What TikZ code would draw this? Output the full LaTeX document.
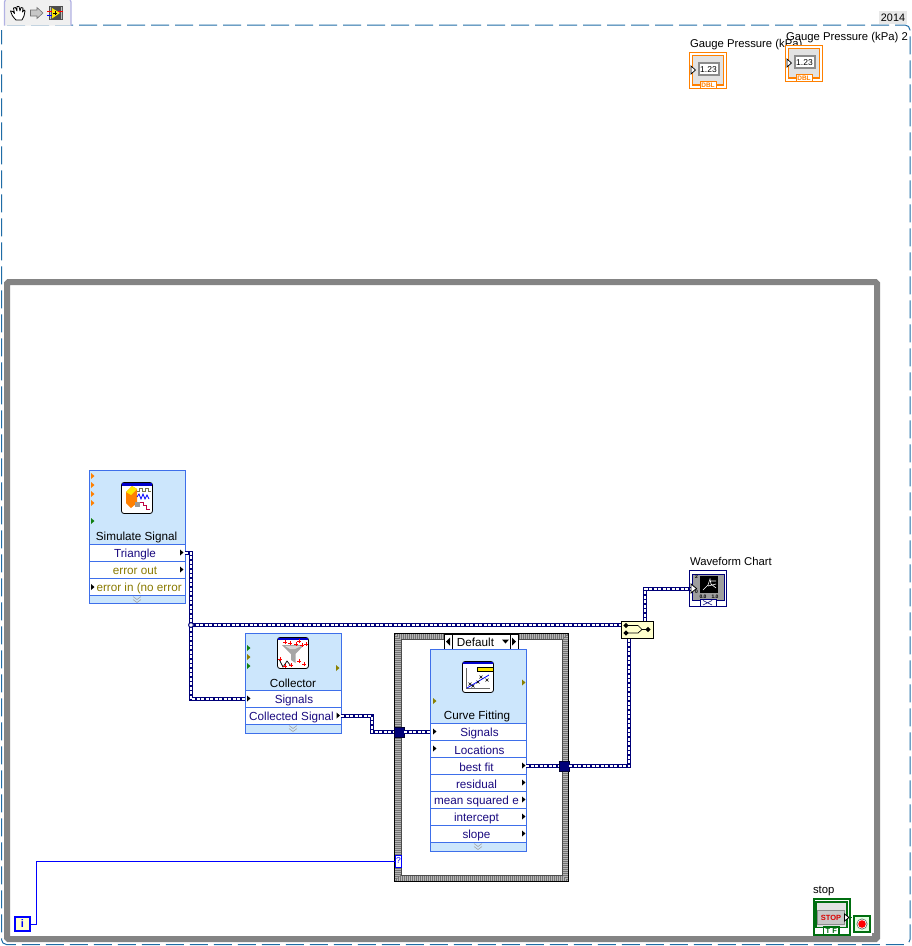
\documentclass[tikz,border=0pt]{standalone}
\usepackage{fontspec}
\setmainfont{Liberation Sans}
\definecolor{frameblue}{HTML}{1F6CA6}
\definecolor{loopgray}{HTML}{848484}
\definecolor{vipanel}{HTML}{CCE6FC}
\definecolor{viedge}{HTML}{3E6FEA}
\definecolor{navywire}{HTML}{000078}
\definecolor{sigtext}{HTML}{1A0A80}
\definecolor{errtext}{HTML}{8A7A00}
\definecolor{dblorange}{HTML}{FF8000}
\definecolor{tfgreen}{HTML}{006E10}
\definecolor{termgreen}{HTML}{108010}
\definecolor{termolive}{HTML}{8A8000}
\definecolor{panelgray}{HTML}{E2E2E2}
\definecolor{mergeyellow}{HTML}{FFFFCC}
\definecolor{intblue}{HTML}{0000FF}
\tikzset{
  every node/.style={inner sep=0pt,outer sep=0pt},
  lbl/.style={font=\fontsize{11.3}{13}\selectfont,text=black,yshift=-1.2pt},
  rowcell/.style={draw=viedge,line width=1pt,fill=white,minimum width=96pt,minimum height=17pt},
  rowtext/.style={font=\fontsize{11.7}{13}\selectfont,yshift=-1.2pt},
  panel/.style={draw=viedge,line width=1pt,fill=vipanel,minimum width=96pt},
  iconbox/.style={draw=black,line width=.8pt,fill=white,rounded corners=2.5pt,minimum width=31pt,minimum height=31pt},
  sigwire/.style={draw=navywire,line width=4.8pt,line join=miter,
     postaction={draw=white,line width=1.2pt,dash pattern=on 3pt off 1.5pt}},
  intwire/.style={draw=intblue,line width=1pt},
  tunnel/.style={fill=navywire,draw=black!60!navywire,line width=.5pt,minimum width=10pt,minimum height=10pt},
  frameline/.style={draw=frameblue,line width=1pt,dash pattern=on 18pt off 6pt},
  looppath/.style={draw=loopgray,line width=6pt,line join=miter,rounded corners=1.5pt},
}
\newcommand\vrow[6]{% name, cell centre y, left, text x, colour, text
  \node[rowcell] (#1) at (#3+48,#2) {};
  \node[rowtext,text=#5] at (#4,#2) {#6};}
\newcommand\termR[3]{\fill[#3,shift={(#1,#2)}] (0,-3) -- (3.5,0) -- (0,3) -- cycle;}
\newcommand\chev[2]{\draw[black!35,line width=.6pt,shift={(#1,#2)}] (-4,-2.5) -- (0,.5) -- (4,-2.5) (-4,.5) -- (0,3.5) -- (4,.5);}
\newcommand\gauge[3]{% name, x, y of top left
 \begin{scope}[shift={(#2,#3)}]
  \node[draw=dblorange,line width=1.6pt,fill=white,minimum width=37pt,minimum height=36pt] (#1) at (19,18.5) {};
  \fill[panelgray] (3.5,3.5) rectangle (34.5,33);
  \draw[dblorange,line width=1.2pt] (11,33) -- (3.5,33) -- (3.5,3.5) -- (34.5,3.5) -- (34.5,33) -- (27,33);
  \draw[dblorange,line width=1pt,fill=white] (11,29.5) rectangle (27,36.5);
  \node[font=\bfseries\fontsize{6.5}{7}\selectfont,text=dblorange] at (19,33.2) {DBL};
  \draw[black!45,line width=2pt,fill=white] (9.5,11) rectangle (29.5,23);
  \node[font=\fontsize{8.5}{10}\selectfont] at (19.5,17.2) {1.23};
  \draw[black,line width=.7pt,fill=white] (2,14) -- (6.5,18) -- (2,22) -- cycle;
 \end{scope}}
\begin{document}
\begin{tikzpicture}[x=1pt,y=-1pt]
\useasboundingbox (0,0) rectangle (912,946);
\fill[white] (0,0) rectangle (912,946);

% outer dashed frame
\draw[frameline,rounded corners=5pt] (7,25) -- (910,25) -- (910,944.5) -- (1.5,944.5) -- (1.5,30);

% toolbar
\path[fill=black!6,draw=black!35!blue!30!white,line width=1.2pt,rounded corners=4pt] (4.5,25.5) -- (4.5,-2) -- (71,-2) -- (71,25.5);
\draw[black,line width=.8pt,fill=white,line join=round]
  (16,20) .. controls (13,17) and (11,14) .. (10.5,11) -- (13,11.5) -- (14.5,13.5) -- (13.5,8) -- (15.5,7.5) -- (17,11)
  -- (17,6.5) -- (19,6.5) -- (20,11) -- (21,7.5) -- (23,8) -- (22.5,12) -- (24,10) -- (25,11) -- (24,16) -- (22,20) -- cycle;
\draw[black!55,line width=.6pt,fill=black!22] (30.5,10) -- (37,10) -- (37,7.5) -- (43,13) -- (37,18.5) -- (37,16) -- (30.5,16) -- cycle;
\fill[black!70] (49,6) rectangle (63,20);
\fill[black!25!white] (50,7) rectangle (51,19) (61,7) rectangle (62,19);
\draw[red,line width=.8pt] (47,11) -- (53,11) (58,11) -- (63,11);
\draw[blue,line width=.8pt] (47,15.5) -- (53,15.5);
\fill[yellow!90!orange] (52,8) -- (60,13) -- (52,18.5) -- cycle;
\draw[black,line width=.7pt] (53,13) -- (57,13) (55,11) -- (55,15);

% version
\fill[black!9] (879,11) rectangle (907,24);
\node[font=\fontsize{10.8}{12}\selectfont,text=black] at (893,17.5) {2014};

% gauges
\node[lbl,anchor=west] at (690,43) {Gauge Pressure (kPa)};
\gauge{gaugeA}{689}{52}
\gauge{gaugeB}{785}{45}
\node[lbl,anchor=west] at (786,36.5) {Gauge Pressure (kPa) 2};

% while loop
\draw[looppath] (7,282) -- (877,282) -- (877,939) -- (7,939) -- cycle;
\fill[loopgray] (872,933) rectangle (880,937);

% case structure
\fill[black!28] (395,633) rectangle (568,639) (395,875.5) rectangle (568,881) (395,633) rectangle (401,881) (562,633) rectangle (568,881);
\foreach \i in {0,...,5}{
  \pgfmathsetmacro\inset{\i+.5}
  \pgfmathsetmacro\phase{mod(\i,2)}
  \draw[black!55,line width=1pt,dash pattern=on 1pt off 1pt,dash phase=\phase pt]
    (394.5+\inset,633+\inset) rectangle (568-\inset,881-\inset);
}
\draw[black,line width=.8pt] (394.5,633) rectangle (568,881);
\draw[black!70,line width=.5pt] (401,639) rectangle (562,875.5);

% selector
\node[draw=black,line width=.8pt,fill=white,minimum width=74pt,minimum height=15pt] (selector) at (481,641.5) {};
\draw[black,line width=.8pt] (452,634) -- (452,649) (510,634) -- (510,649);
\fill[black] (450,637.5) -- (446,641.5) -- (450,645.5) -- cycle;
\fill[black] (512,637.5) -- (516,641.5) -- (512,645.5) -- cycle;
\fill[black] (502,639.5) -- (509,639.5) -- (505.5,643.5) -- cycle;
\node[rowtext,text=black] at (475.5,641) {Default};

% Simulate Signal
\node[panel,minimum height=133pt] (simulate) at (137,536.5) {};
\node[iconbox] (simicon) at (137,498) {};
\fill[blue!80!black] (122,483) rectangle (152,485.5);
\fill[orange] (126,492) -- (132,486) -- (137,489) -- (137,503) -- (131,508) -- (126,503) -- cycle;
\fill[yellow!90!orange] (126,492) -- (132,486) -- (137,489) -- (131,495) -- cycle;
\draw[black!60!yellow,line width=.7pt] (137,491) -- (139,491) -- (139,488) -- (142,488) -- (142,491) -- (145,491) -- (145,488) -- (148,488) -- (148,491) -- (151,491);
\draw[blue,line width=.8pt] (137,497) -- (139,494) -- (141,499) -- (143,494) -- (145,499) -- (147,495) -- (149,499);
\draw[purple,line width=.8pt] (140,502) -- (143,502) -- (143,505) -- (146,505) -- (146,509) -- (150,509);
\fill[black!40] (135,502) rectangle (140,507);
\node[rowtext,text=black] at (136.5,536) {Simulate Signal};
\vrow{simTri}{553}{89}{135}{sigtext}{Triangle}
\vrow{simErr}{570}{89}{135}{errtext}{error out}
\node[rowcell] (simIn) at (137,587) {};
\begin{scope}
 \clip (95,579) rectangle (182,595);
 \node[rowtext,text=errtext,anchor=west] at (96.5,587) {error in (no error};
\end{scope}
\chev{137}{599}
\foreach \yy in {476,485,494,503} {\termR{91}{\yy}{orange}}
\termR{91}{521}{termgreen}
\termR{180}{552.5}{black}
\termR{180}{569.5}{black}
\termR{91}{587}{black}

% Collector
\node[panel,minimum height=100pt] (collector) at (293,683) {};
\node[iconbox] (collicon) at (293,653) {};
\fill[blue!80!black] (278,638) rectangle (308,640);
\fill[black!35] (282,645) -- (304,645) -- (295.5,654) -- (295.5,663) -- (291,660) -- (291,654) -- cycle;
\fill[black!15] (285,646) -- (301,646) -- (295,649) -- (290,649) -- cycle;
\draw[black,line width=.7pt] (279,659) -- (283,667) -- (287,661) -- (291,666);
\foreach \px/\py in {285/642,290/643,296/644,302/645,299/641,306/644,280/659,285/666,291/665,299/661,304/664}
  {\draw[red,line width=.8pt] (\px-1.6,\py) -- (\px+1.6,\py) (\px,\py-1.6) -- (\px,\py+1.6);}
\node[rowtext,text=black] at (293,682) {Collector};
\vrow{colSig}{699}{245}{294}{sigtext}{Signals}
\vrow{colOut}{716}{245}{291.5}{sigtext}{Collected Signal}
\chev{293}{728}
\termR{247}{648}{termgreen}
\termR{247}{657}{termolive}
\termR{247}{666}{termgreen}
\termR{336}{668}{termolive}
\termR{247}{698.5}{black}
\termR{336.5}{715.5}{black}

% Curve Fitting
\node[panel,minimum height=202pt] (curve) at (478,750) {};
\node[iconbox] (curveicon) at (478,677) {};
\fill[blue!80!black] (463,662) rectangle (493,664);
\fill[yellow!90!orange] (477,667) rectangle (493,671);
\draw[black,line width=.5pt] (477,667) rectangle (493,671);
\draw[black!60,line width=.7pt] (466,668) -- (466,688) -- (490,688);
\draw[blue,line width=.8pt] (467,688) -- (489,675);
\foreach \px/\py in {470/684,473/686,478/682,481/677,487/680}
  {\draw[black,line width=.6pt] (\px-1.5,\py-1.5) -- (\px+1.5,\py+1.5) (\px-1.5,\py+1.5) -- (\px+1.5,\py-1.5);}
\node[rowtext,text=black] at (477,715) {Curve Fitting};
\vrow{fitSig}{732}{430}{479.5}{sigtext}{Signals}
\vrow{fitLoc}{749}{430}{479.5}{sigtext}{Locations}
\vrow{fitBest}{766}{430}{476.5}{sigtext}{best fit}
\vrow{fitRes}{783}{430}{476.5}{sigtext}{residual}
\vrow{fitMse}{800}{430}{476.5}{sigtext}{mean squared e}
\vrow{fitInt}{817}{430}{476.5}{sigtext}{intercept}
\vrow{fitSlope}{834}{430}{476.5}{sigtext}{slope}
\chev{478}{846}
\termR{522}{682.5}{termolive}
\termR{433}{701}{termolive}
\termR{433}{731.5}{black}
\termR{433}{748.5}{black}
\foreach \yy in {765.5,782.5,799.5,816.5,833.5} {\termR{522}{\yy}{black}}

% waveform chart
\node[lbl,anchor=west] at (690,560) {Waveform Chart};
\node[draw=navywire,line width=1.2pt,fill=white,minimum width=37pt,minimum height=36pt] (chart) at (708,588.5) {};
\fill[black!38] (692,574) rectangle (724,600);
\draw[navywire,line width=1pt] (692,600) -- (692,574) -- (724,574) -- (724,600) -- (692,600);
\fill[black] (700,576) rectangle (718,593);
\draw[white,line width=.6pt] (703,590) -- (708,585) -- (710,579) -- (711,584) -- (716,588) (708,586) -- (716,584) (711,581) -- (716,581);
\node[font=\bfseries\fontsize{5}{5}\selectfont] at (696.5,576.5) {2};
\node[font=\bfseries\fontsize{5}{5}\selectfont] at (696.5,592) {0};
\node[font=\bfseries\fontsize{5}{5}\selectfont] at (703,596.5) {0.0};
\node[font=\bfseries\fontsize{5}{5}\selectfont] at (715,596.5) {1.0};
\draw[navywire,line width=1pt,fill=white] (700,599.5) rectangle (716,606);
\draw[navywire,line width=.6pt] (703,600.5) -- (712,605) (703,605) -- (712,600.5);

% merge
\node[draw=black,line width=.9pt,fill=mergeyellow,minimum width=32pt,minimum height=17pt] (merge) at (637,629.5) {};

% stop
\node[lbl,anchor=west] at (813,890) {stop};
\node[draw=tfgreen,line width=2pt,fill=white,minimum width=36pt,minimum height=36pt] (stopctl) at (831.5,916.5) {};
\fill[panelgray] (816,902) rectangle (847,927.5);
\draw[tfgreen,line width=1.4pt] (816,927.5) -- (816,902) -- (847,902) -- (847,927.5) -- cycle;
\node[draw=black!45,line width=1pt,fill=black!22,minimum width=27pt,minimum height=14pt,text=red!85!black,font=\bfseries\fontsize{7.5}{8}\selectfont] at (831,917.5) {STOP};
\draw[tfgreen,line width=1.2pt,fill=white] (823.5,927) rectangle (839,935);
\node[font=\bfseries\fontsize{7.5}{8}\selectfont,text=tfgreen] at (831.3,931.2) {T F};
\draw[black,line width=.8pt,fill=white] (844.5,914) -- (849,917.5) -- (844.5,921) -- cycle;
\node[draw=tfgreen,line width=1.2pt,fill=green!12,minimum width=16pt,minimum height=16pt] (stopterm) at (862,924) {};
\fill[black!60] (862,924) circle (5.5pt);
\fill[white] (862,924) circle (4.7pt);
\fill[red] (862,924) circle (3.8pt);
\draw[tfgreen,line width=.8pt,dash pattern=on 1pt off 1pt] (849,917.5) -- (854,917.5);

% iteration terminal and conditional terminal
\node[draw=intblue,line width=2pt,fill=mergeyellow,minimum width=14.5pt,minimum height=14.5pt,text=intblue,font=\bfseries\fontsize{11}{12}\selectfont] (iter) at (22.5,924) {i};
\node[draw=intblue,line width=.9pt,fill=white,minimum width=6.5pt,minimum height=12pt,text=intblue,font=\fontsize{8.5}{9}\selectfont] (cond) at (398.5,861) {?};
\draw[intwire] (iter.east) -- (36,924) |- (cond.west);

% signal wires
\coordinate (junction) at (191,625);
\coordinate (mergein) at (621,625);
\coordinate (mergeoutN) at (645,621);
\coordinate (mergeinS) at (629,638);
\coordinate (chartin) at (691,589);
\coordinate (colbend) at (372,716);
\node[tunnel] (tunA) at (399,732) {};
\node[tunnel] (tunB) at (564,766) {};
\draw[sigwire] (simTri.east) -- (junction |- simTri.east) -- (junction) |- (colSig.west);
\draw[sigwire] (junction) -- (mergein);
\draw[sigwire] (mergeoutN) |- (chartin);
\draw[sigwire] (fitBest.east) -- (tunB.west);
\draw[sigwire] (tunB.east) -- (mergeinS |- tunB.east) -- (mergeinS);
\draw[sigwire] (colOut.east) -- (colbend) |- (tunA.west);
\draw[sigwire] (tunA.east) -- (fitSig.west);
\draw[navywire,line width=1pt,fill=white] (junction) circle (2.4pt);

% merge glyph (over wires)
\draw[black,line width=.9pt,fill=mergeyellow] (merge.north west) rectangle (merge.south east);
\draw[black,line width=.7pt] (626,625.5) -- (638,625.5) -- (642,629.5) -- (648,629.5) (626,633) -- (638,633) -- (642,629.5);
\foreach \mx/\my in {626/625.5,626/633,648/629.5}
  {\fill[black] (\mx,\my-2.6) -- (\mx+2.6,\my) -- (\mx,\my+2.6) -- (\mx-2.6,\my) -- cycle;}
\draw[black,line width=.8pt,fill=white] (691,584) -- (696.5,588.5) -- (691,593) -- cycle;
\end{tikzpicture}
\end{document}
